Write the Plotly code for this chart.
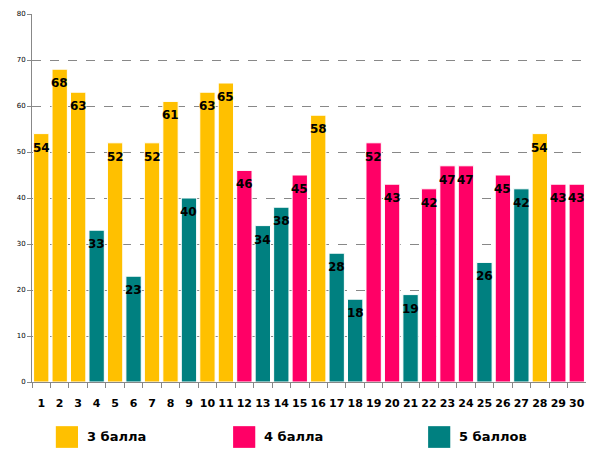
import plotly.graph_objects as go

# school numbers and their results
schools = [str(i) for i in range(1, 31)]
values = [54, 68, 63, 33, 52, 23, 52, 61, 40, 63, 65, 46, 34, 38, 45,
          58, 28, 18, 52, 43, 19, 42, 47, 47, 26, 45, 42, 54, 43, 43]
grades = [3, 3, 3, 5, 3, 5, 3, 3, 5, 3, 3, 4, 5, 5, 4,
          3, 5, 5, 4, 4, 5, 4, 4, 4, 5, 4, 5, 3, 4, 4]
legend_names = ["3 балла", "4 балла", "5 баллов"]

palette = {3: "#FFC000", 4: "#FF0066", 5: "#008080"}
colors = [palette[g] for g in grades]

fig = go.Figure(go.Bar(
    x=schools,
    y=values,
    marker=dict(color=colors, line=dict(color="white", width=1)),
    showlegend=False,
))

# value labels just under the top of each bar (category index on x)
for i, v in enumerate(values):
    fig.add_annotation(x=i, y=v, text=str(v), showarrow=False,
                       yanchor="top", yshift=-5,
                       font=dict(family="DejaVu Sans", size=12, color="black", weight="bold"))

# legend drawn by hand below the chart
legend_x = [0.043, 0.363, 0.715]
for name, key, lx in zip(legend_names, [3, 4, 5], legend_x):
    fig.add_shape(type="rect", xref="paper", yref="paper",
                  x0=lx, x1=lx + 0.04, y0=-0.12, y1=-0.179,
                  fillcolor=palette[key], line=dict(width=0))
    fig.add_annotation(x=lx + 0.052, y=-0.149, xref="paper", yref="paper",
                       text=name, showarrow=False, xanchor="left", yanchor="middle",
                       font=dict(family="DejaVu Sans", size=13, color="black", weight="bold"))

fig.update_layout(
    width=594, height=465,
    margin=dict(l=24, r=16, t=6, b=91),
    plot_bgcolor="white", paper_bgcolor="white",
    bargap=0.17,
    xaxis=dict(
        type="category", automargin=False,
        range=[-0.5, len(schools) - 0.5],
        showline=True, linecolor="#888888", linewidth=1,
        ticks="outside", tickson="boundaries", ticklen=5, tickcolor="#888888",
        ticklabelstandoff=11, tickangle=0,
        tickfont=dict(family="DejaVu Sans", size=11, color="black", weight="bold"),
        showgrid=False,
    ),
    yaxis=dict(
        range=[0, 80], dtick=10, automargin=False,
        showline=True, linecolor="#888888", linewidth=1,
        ticks="outside", ticklen=4, tickcolor="#888888",
        tickfont=dict(family="DejaVu Sans", size=7, color="black"),
        showgrid=True, gridcolor="#888888", griddash="dash", gridwidth=1,
        zeroline=False,
    ),
)

fig.write_html("out.html")
